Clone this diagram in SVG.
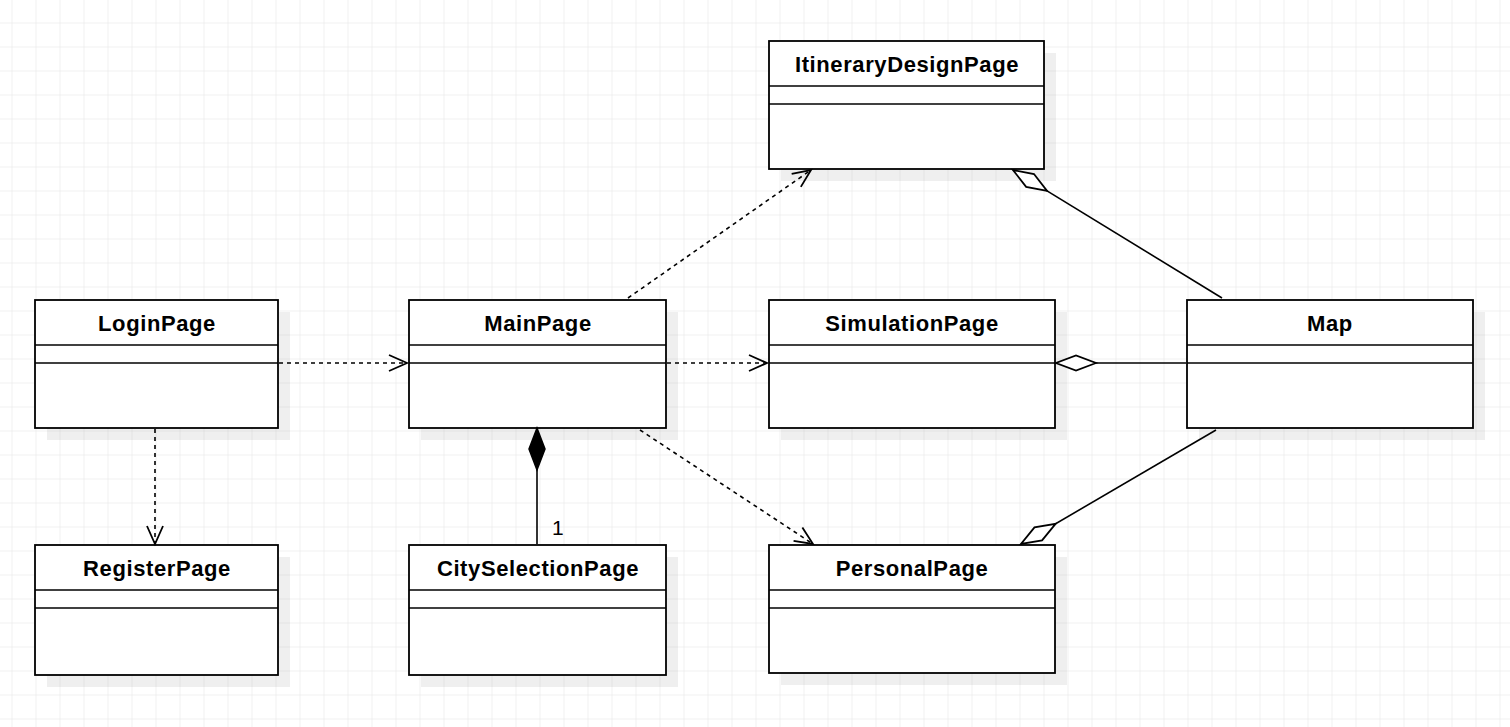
<svg xmlns="http://www.w3.org/2000/svg" width="1510" height="727" viewBox="0 0 1510 727">
<style>
.shadow{fill:#808080;fill-opacity:0.13;stroke:none}
.box{fill:#ffffff;stroke:#000000;stroke-width:1.8}
.div{stroke:#000000;stroke-width:1.5;fill:none}
.title{font-family:"Liberation Sans",Arial,Helvetica,sans-serif;font-weight:bold;font-size:22px;letter-spacing:0.6px;fill:#000000;text-anchor:middle}
.dep{fill:none;stroke:#000000;stroke-width:1.6;stroke-dasharray:4 4}
.assoc{fill:none;stroke:#000000;stroke-width:1.6}
.lbl{font-family:"Liberation Sans",Arial,Helvetica,sans-serif;font-size:21px;fill:#000000}
</style>
<defs>
<pattern id="grid" x="11.5" y="22.5" width="24" height="24" patternUnits="userSpaceOnUse">
<path d="M0,0 L24,0 M0,0 L0,24" fill="none" stroke="#e3e3e3" stroke-width="1"/>
</pattern>
<marker id="open" markerUnits="userSpaceOnUse" markerWidth="24" markerHeight="24" refX="18" refY="8" orient="auto" overflow="visible">
<path d="M0,0 L18,8 L0,16" fill="none" stroke="#000000" stroke-width="1.8"/>
</marker>
<marker id="hdiamond" markerUnits="userSpaceOnUse" markerWidth="44" markerHeight="20" refX="40" refY="8" orient="auto" overflow="visible">
<path d="M0,8 L20,0.5 L40,8 L20,15.5 Z" fill="#ffffff" stroke="#000000" stroke-width="1.8"/>
</marker>
<marker id="fdiamond" markerUnits="userSpaceOnUse" markerWidth="44" markerHeight="20" refX="42" refY="8" orient="auto" overflow="visible">
<path d="M0,8 L21,0 L42,8 L21,16 Z" fill="#000000" stroke="#000000" stroke-width="1.5"/>
</marker>
</defs>
<rect x="0" y="0" width="1510" height="727" fill="#ffffff"/>
<rect x="0" y="0" width="1510" height="727" fill="url(#grid)"/>

<g id="LoginPage">
<rect class="shadow" x="47" y="312" width="243" height="128"/>
<rect class="box" x="35" y="300" width="243" height="128"/>
<line class="div" x1="35" y1="345" x2="278" y2="345"/>
<line class="div" x1="35" y1="363" x2="278" y2="363"/>
<text class="title" x="157" y="331">LoginPage</text>
</g>
<g id="RegisterPage">
<rect class="shadow" x="47" y="557" width="243" height="130"/>
<rect class="box" x="35" y="545" width="243" height="130"/>
<line class="div" x1="35" y1="590" x2="278" y2="590"/>
<line class="div" x1="35" y1="608" x2="278" y2="608"/>
<text class="title" x="157" y="576">RegisterPage</text>
</g>
<g id="MainPage">
<rect class="shadow" x="421" y="312" width="257" height="128"/>
<rect class="box" x="409" y="300" width="257" height="128"/>
<line class="div" x1="409" y1="345" x2="666" y2="345"/>
<line class="div" x1="409" y1="363" x2="666" y2="363"/>
<text class="title" x="538" y="331">MainPage</text>
</g>
<g id="CitySelectionPage">
<rect class="shadow" x="421" y="557" width="257" height="130"/>
<rect class="box" x="409" y="545" width="257" height="130"/>
<line class="div" x1="409" y1="590" x2="666" y2="590"/>
<line class="div" x1="409" y1="608" x2="666" y2="608"/>
<text class="title" x="538" y="576">CitySelectionPage</text>
</g>
<g id="ItineraryDesignPage">
<rect class="shadow" x="781" y="53" width="275" height="128"/>
<rect class="box" x="769" y="41" width="275" height="128"/>
<line class="div" x1="769" y1="86" x2="1044" y2="86"/>
<line class="div" x1="769" y1="104" x2="1044" y2="104"/>
<text class="title" x="907" y="72">ItineraryDesignPage</text>
</g>
<g id="SimulationPage">
<rect class="shadow" x="781" y="312" width="286" height="128"/>
<rect class="box" x="769" y="300" width="286" height="128"/>
<line class="div" x1="769" y1="345" x2="1055" y2="345"/>
<line class="div" x1="769" y1="363" x2="1055" y2="363"/>
<text class="title" x="912" y="331">SimulationPage</text>
</g>
<g id="PersonalPage">
<rect class="shadow" x="781" y="557" width="286" height="128"/>
<rect class="box" x="769" y="545" width="286" height="128"/>
<line class="div" x1="769" y1="590" x2="1055" y2="590"/>
<line class="div" x1="769" y1="608" x2="1055" y2="608"/>
<text class="title" x="912" y="576">PersonalPage</text>
</g>
<g id="Map">
<rect class="shadow" x="1199" y="312" width="286" height="128"/>
<rect class="box" x="1187" y="300" width="286" height="128"/>
<line class="div" x1="1187" y1="345" x2="1473" y2="345"/>
<line class="div" x1="1187" y1="363" x2="1473" y2="363"/>
<text class="title" x="1330" y="331">Map</text>
</g>

<g id="connectors">
<path class="dep" d="M279,363 L407,363" marker-end="url(#open)"/>
<path class="dep" d="M155,429 L155,544" marker-end="url(#open)"/>
<path class="dep" d="M667,363 L767,363" marker-end="url(#open)"/>
<path class="dep" d="M628,298 L811,170" marker-end="url(#open)"/>
<path class="dep" d="M640,430 L813,544" marker-end="url(#open)"/>
<path class="assoc" d="M537,544 L537,428" marker-end="url(#fdiamond)"/>
<text class="lbl" x="552" y="535">1</text>
<path class="assoc" d="M1222,298 L1013,170" marker-end="url(#hdiamond)"/>
<path class="assoc" d="M1186,363 L1056,363" marker-end="url(#hdiamond)"/>
<path class="assoc" d="M1216,430 L1021,544" marker-end="url(#hdiamond)"/>
</g>
</svg>
